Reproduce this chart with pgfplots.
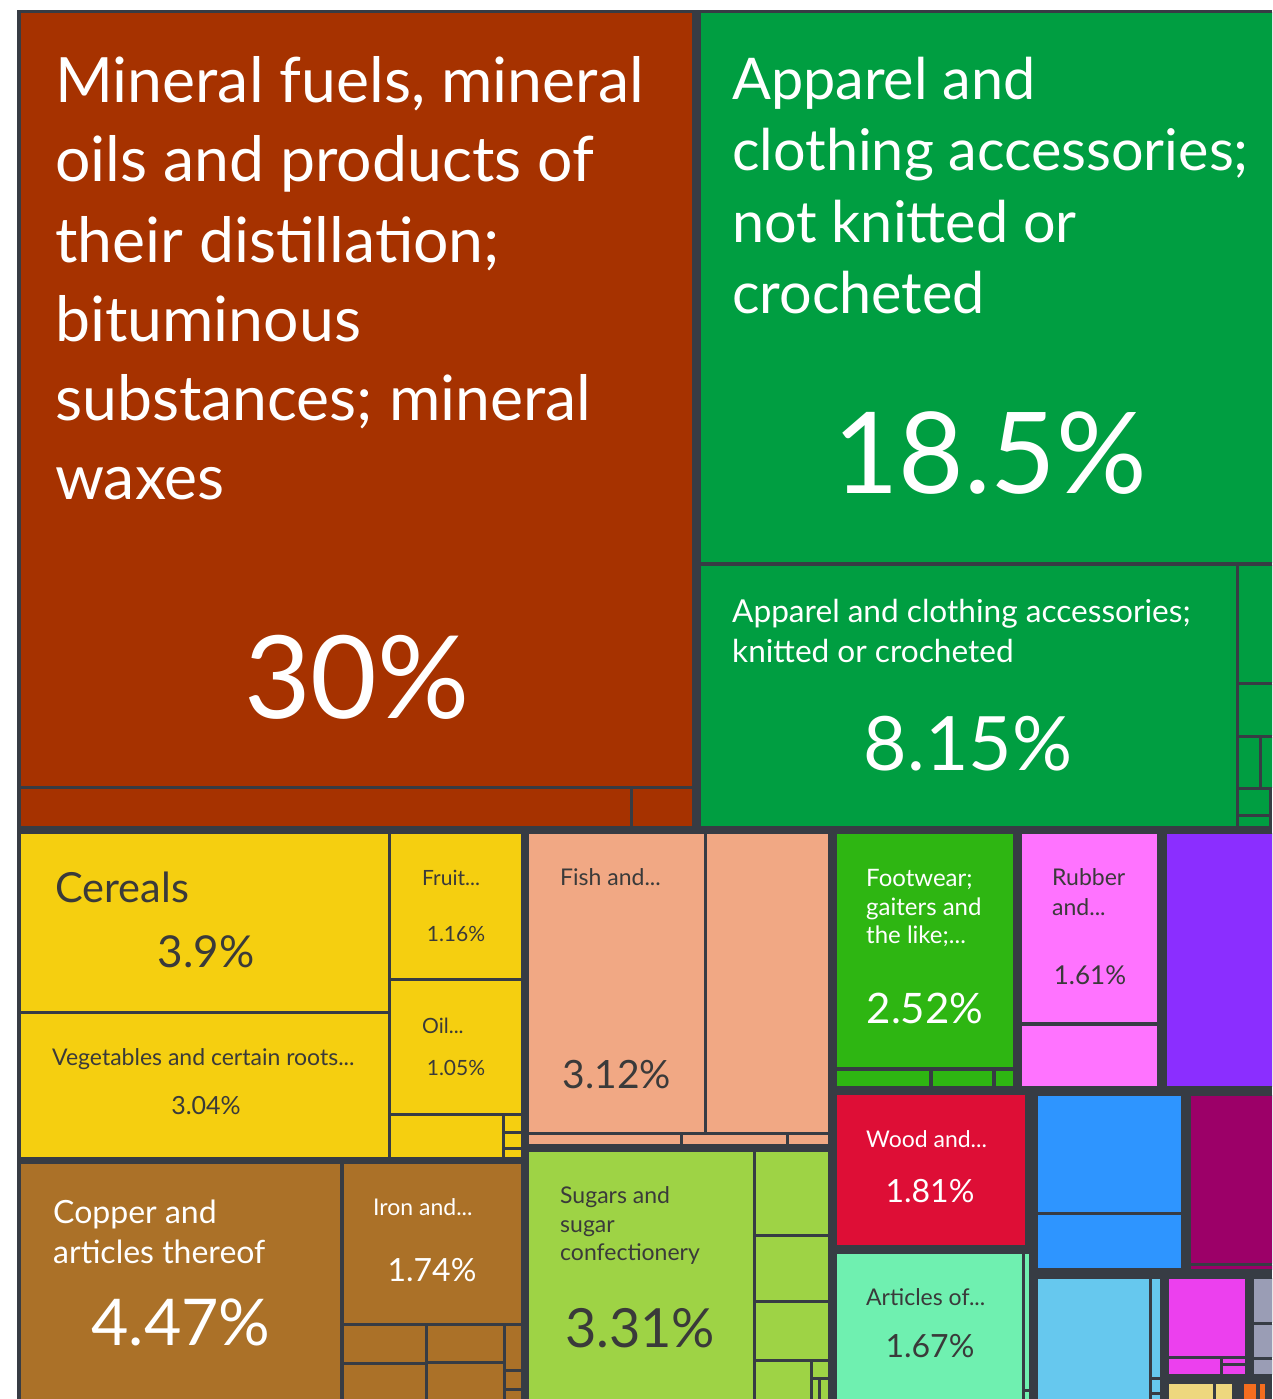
\documentclass[border=0pt]{standalone}
\usepackage{pgfplots}
\pgfplotsset{compat=1.18}
\usepackage{fontspec}
\setmainfont{Lato}
\definecolor{bg}{HTML}{373C44}
\definecolor{cMin}{HTML}{A63200}
\definecolor{cApp}{HTML}{009E41}
\definecolor{cYel}{HTML}{F5CF10}
\definecolor{cMet}{HTML}{AB7128}
\definecolor{cSal}{HTML}{F1A884}
\definecolor{cLim}{HTML}{9ED345}
\definecolor{cFoo}{HTML}{2EB612}
\definecolor{cRub}{HTML}{FF73FF}
\definecolor{cPur}{HTML}{8B2EFF}
\definecolor{cRed}{HTML}{DE0E36}
\definecolor{cMnt}{HTML}{6FF0B0}
\definecolor{cBlu}{HTML}{2E95FF}
\definecolor{cMar}{HTML}{9C0068}
\definecolor{cLbl}{HTML}{66C8EE}
\definecolor{cMag}{HTML}{EC40EE}
\definecolor{cGry}{HTML}{9A9DB5}
\definecolor{cTan}{HTML}{EED77E}
\definecolor{cOra}{HTML}{F46D1E}
\definecolor{tdark}{HTML}{3A3A3A}
\newcommand{\cell}[5]{\addplot[fill=#1, draw=bg, line width=1pt, mark=none] coordinates {(#2,#3) (#4,#3) (#4,#5) (#2,#5)} --cycle;}
\newcommand{\fs}[1]{\fontsize{#1}{#1}\selectfont}
\newcommand{\lbl}[5]{\node[anchor=base west, inner sep=0pt, text=#4, font=\fs{#3}] at (axis cs:#1,#2) {#5};}
\newcommand{\pct}[5]{\node[anchor=base, inner sep=0pt, text=#4, font=\fs{#3}] at (axis cs:#1,#2) {#5};}
\begin{document}
\begin{tikzpicture}
\begin{axis}[width=1272pt, height=1399pt, scale only axis,
  xmin=0, xmax=1272, ymin=0, ymax=1399, y dir=reverse, hide axis]
\addplot[fill=white, draw=none, mark=none] coordinates {(0,0) (1272,0) (1272,1399) (0,1399)} --cycle;
\addplot[fill=bg, draw=none, mark=none] coordinates {(17,10) (1272,10) (1272,1399) (17,1399)} --cycle;
% mineral fuels
\cell{cMin}{20}{13}{692}{786}
\cell{cMin}{20}{788}{630}{826}
\cell{cMin}{632}{788}{692}{826}
% apparel
\cell{cApp}{700}{13}{1272}{562}
\cell{cApp}{700}{565}{1236}{826}
\cell{cApp}{1238}{565}{1272}{682}
\cell{cApp}{1238}{684}{1272}{735}
\cell{cApp}{1238}{737}{1259}{787}
\cell{cApp}{1261}{737}{1272}{787}
\cell{cApp}{1238}{789}{1269}{814}
\cell{cApp}{1238}{816}{1269}{826}
% vegetable products
\cell{cYel}{20}{833}{388}{1011}
\cell{cYel}{20}{1013}{388}{1157}
\cell{cYel}{390}{833}{521}{978}
\cell{cYel}{390}{980}{521}{1113}
\cell{cYel}{390}{1115}{502}{1157}
\cell{cYel}{504}{1115}{521}{1131}
\cell{cYel}{504}{1133}{521}{1147}
\cell{cYel}{504}{1149}{521}{1157}
% metals
\cell{cMet}{20}{1163}{340}{1399}
\cell{cMet}{343}{1163}{521}{1323}
\cell{cMet}{343}{1325}{425}{1362}
\cell{cMet}{427}{1325}{503}{1361}
\cell{cMet}{343}{1364}{425}{1399}
\cell{cMet}{427}{1363}{503}{1399}
\cell{cMet}{505}{1325}{521}{1369}
\cell{cMet}{505}{1371}{521}{1388}
\cell{cMet}{505}{1390}{521}{1399}
% animal products
\cell{cSal}{528}{833}{704}{1132}
\cell{cSal}{706}{833}{828}{1132}
\cell{cSal}{528}{1134}{680}{1144}
\cell{cSal}{682}{1134}{786}{1144}
\cell{cSal}{788}{1134}{828}{1144}
% foodstuffs
\cell{cLim}{528}{1151}{753}{1399}
\cell{cLim}{755}{1151}{828}{1234}
\cell{cLim}{755}{1236}{828}{1300}
\cell{cLim}{755}{1302}{828}{1359}
\cell{cLim}{755}{1361}{810}{1399}
\cell{cLim}{812}{1361}{828}{1377}
\cell{cLim}{812}{1379}{818}{1399}
\cell{cLim}{820}{1379}{828}{1399}
% footwear
\cell{cFoo}{836}{833}{1013}{1067}
\cell{cFoo}{836}{1070}{929}{1086}
\cell{cFoo}{932}{1070}{992}{1086}
\cell{cFoo}{995}{1070}{1013}{1086}
% plastics and rubbers
\cell{cRub}{1021}{833}{1157}{1022}
\cell{cRub}{1021}{1025}{1157}{1086}
% chemicals
\cell{cPur}{1166}{833}{1272}{1086}
% wood
\cell{cRed}{836}{1094}{1025}{1245}
% stone and glass
\cell{cMnt}{836}{1253}{1022}{1399}
\cell{cMnt}{1024}{1253}{1029}{1389}
\cell{cMnt}{1024}{1391}{1029}{1399}
% machines
\cell{cBlu}{1037}{1095}{1181}{1212}
\cell{cBlu}{1037}{1214}{1181}{1268}
% textiles other
\cell{cMar}{1190}{1095}{1272}{1263}
\cell{cMar}{1190}{1265}{1272}{1269}
% transportation
\cell{cLbl}{1037}{1278}{1149}{1399}
\cell{cLbl}{1151}{1278}{1160}{1377}
\cell{cLbl}{1151}{1379}{1160}{1392}
\cell{cLbl}{1151}{1394}{1160}{1399}
% misc
\cell{cMag}{1168}{1278}{1245}{1356}
\cell{cMag}{1168}{1358}{1220}{1374}
\cell{cMag}{1222}{1358}{1245}{1363}
\cell{cMag}{1222}{1365}{1245}{1374}
% instruments
\cell{cGry}{1253}{1278}{1272}{1322}
\cell{cGry}{1253}{1324}{1272}{1357}
\cell{cGry}{1253}{1359}{1272}{1374}
% others
\cell{cTan}{1168}{1383}{1213}{1399}
\cell{cTan}{1215}{1383}{1232}{1399}
\cell{cOra}{1243}{1383}{1256}{1399}
\cell{cOra}{1259}{1383}{1265}{1399}
% labels
\lbl{55}{103}{62.5}{white}{Mineral fuels, mineral}
\lbl{55}{182}{62.5}{white}{oils and products of}
\lbl{55}{262}{62.5}{white}{their distillation;}
\lbl{55}{341}{62.5}{white}{bituminous}
\lbl{55}{420}{62.5}{white}{substances; mineral}
\lbl{55}{499}{62.5}{white}{waxes}
\pct{357}{718}{115}{white}{30\%}
\lbl{732}{100}{57.5}{white}{Apparel and}
\lbl{732}{171}{57.5}{white}{clothing accessories;}
\lbl{732}{242}{57.5}{white}{not knitted or}
\lbl{732}{313}{57.5}{white}{crocheted}
\pct{990}{493}{113}{white}{18.5\%}
\lbl{732}{622}{31.6}{white}{Apparel and clothing accessories;}
\lbl{732}{662}{31.6}{white}{knitted or crocheted}
\pct{968}{770}{75}{white}{8.15\%}
\lbl{55}{902}{41.5}{tdark}{Cereals}
\pct{206}{967}{44}{tdark}{3.9\%}
\lbl{52}{1065}{23}{tdark}{Vegetables and certain roots...}
\pct{206}{1114}{25}{tdark}{3.04\%}
\lbl{422}{885}{21}{tdark}{Fruit...}
\pct{456}{941}{21}{tdark}{1.16\%}
\lbl{422}{1033}{21}{tdark}{Oil...}
\pct{456}{1075}{21}{tdark}{1.05\%}
\lbl{560}{885}{23}{tdark}{Fish and...}
\pct{617}{1088}{39}{tdark}{3.12\%}
\lbl{866}{886}{24}{white}{Footwear;}
\lbl{866}{915}{24}{white}{gaiters and}
\lbl{866}{943}{24}{white}{the like;...}
\pct{925}{1023}{42}{white}{2.52\%}
\lbl{1052}{885}{23}{tdark}{Rubber}
\lbl{1052}{915}{23}{tdark}{and...}
\pct{1090}{984}{26}{tdark}{1.61\%}
\lbl{53}{1223}{32}{white}{Copper and}
\lbl{53}{1263}{32}{white}{articles thereof}
\pct{181}{1345}{64.5}{white}{4.47\%}
\lbl{373}{1215}{23}{white}{Iron and...}
\pct{432}{1281}{32}{white}{1.74\%}
\lbl{560}{1203}{23}{tdark}{Sugars and}
\lbl{560}{1232}{23}{tdark}{sugar}
\lbl{560}{1260}{23}{tdark}{confectionery}
\pct{640}{1347}{54}{tdark}{3.31\%}
\lbl{866}{1147}{23}{white}{Wood and...}
\pct{930}{1202}{32}{white}{1.81\%}
\lbl{866}{1305}{23}{tdark}{Articles of...}
\pct{930}{1357}{32}{tdark}{1.67\%}
\end{axis}
\end{tikzpicture}
\end{document}
